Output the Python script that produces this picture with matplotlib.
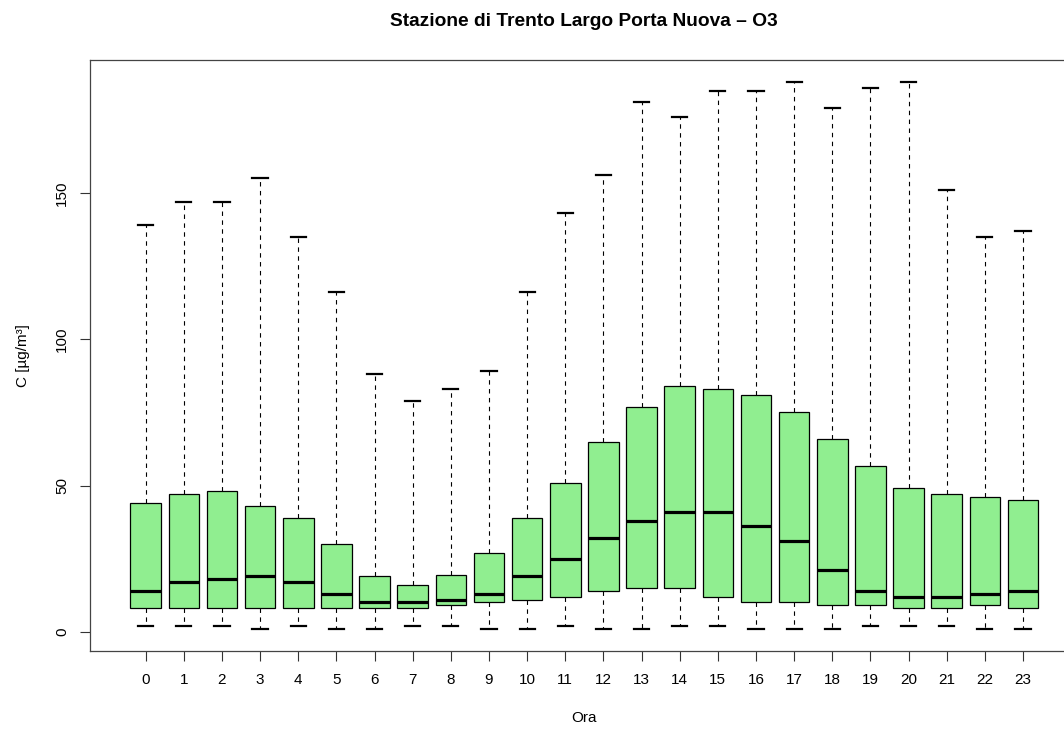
"""
Boxplot of hourly O3 concentrations, Trento Largo Porta Nuova.
"""

import matplotlib
matplotlib.use('Agg')
import matplotlib.pyplot as plt

plt.rcParams['font.family'] = ['Liberation Sans', 'DejaVu Sans']

hours = list(range(24))

# five-number summaries (ug/m3)
whisker_low = [2, 2, 2, 1, 2, 1, 1, 2, 2, 1, 1, 2,
               1, 1, 2, 2, 1, 1, 1, 2, 2, 2, 1, 1]
q1 = [8, 8, 8, 8, 8, 8, 8, 8, 9, 10, 11, 12,
      14, 15, 15, 12, 10, 10, 9, 9, 8, 8, 9, 8]
median = [14, 17, 18, 19, 17, 13, 10, 10, 11, 13, 19, 25,
          32, 38, 41, 41, 36, 31, 21, 14, 12, 12, 13, 14]
q3 = [44, 47, 48, 43, 39, 30, 19, 16, 19.5, 27, 39, 51,
      65, 77, 84, 83, 81, 75, 66, 56.5, 49, 47, 46, 45]
whisker_high = [139, 147, 147, 155, 135, 116, 88, 79, 83, 89, 116, 143,
                156, 181, 176, 185, 185, 188, 179, 186, 188, 151, 135, 137]

stats = []
for h in hours:
    stats.append(dict(label=str(h), whislo=whisker_low[h], q1=q1[h],
                      med=median[h], q3=q3[h], whishi=whisker_high[h]))

W, H = 1064, 729
fig = plt.figure(figsize=(W / 100, H / 100), dpi=100)

# plot region; R's frame runs past the right edge of the image
left, right, top, bottom = 90, 1078.7, 60, 650.7
ax = fig.add_axes([left / W, 1 - bottom / H, (right - left) / W, (bottom - top) / H])

ax.bxp(stats, positions=hours, widths=0.8, patch_artist=True, showfliers=False,
       boxprops=dict(facecolor='#90EE90', edgecolor='black', lw=0.9),
       medianprops=dict(color='black', lw=2.3, solid_capstyle='butt'),
       whiskerprops=dict(color='black', lw=0.8, linestyle=(0, (4, 4))),
       capprops=dict(color='black', lw=1.6))

ax.set_xlim(-1.46, 24.46)
ax.set_ylim(-6.48, 195.48)

ax.set_xticks(hours)
ax.set_xticklabels([str(h) for h in hours])
ax.set_yticks([0, 50, 100, 150])
ax.set_yticklabels(['0', '50', '100', '150'], rotation=90, va='center')

ax.tick_params(axis='both', direction='out', length=7, width=0.8,
               labelsize=11, color='#333333')
ax.tick_params(axis='x', pad=9)
ax.tick_params(axis='y', pad=8)

for sp in ax.spines.values():
    sp.set_color('#444444')
    sp.set_linewidth(0.9)

fig.text((left + right) / 2 / W, 1 - 22 / H,
         'Stazione di Trento Largo Porta Nuova – O3',
         ha='center', va='center', fontsize=13.8, fontweight='bold')
fig.text((left + right) / 2 / W, 1 - 718 / H, 'Ora',
         ha='center', va='center', fontsize=11)
fig.text(23 / W, 1 - ((top + bottom) / 2) / H, 'C [µg/m³]',
         ha='center', va='center', rotation=90, fontsize=11)

fig.savefig('out.png', dpi=100)
